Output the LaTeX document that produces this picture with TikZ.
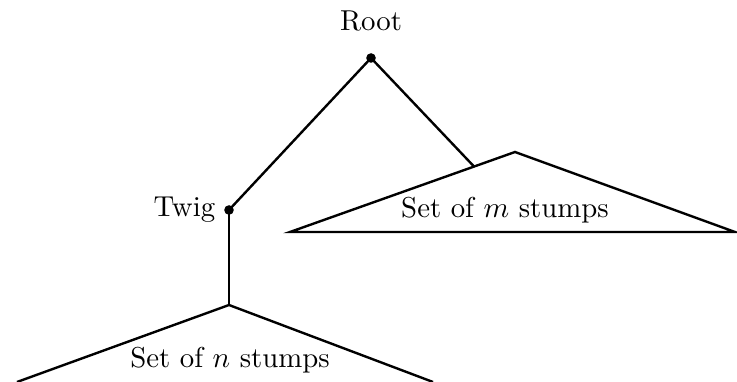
\documentclass[tikz,border=0pt]{standalone}
\usepackage{amsmath,amssymb}
\usepackage{tikz}
\usetikzlibrary{calc,positioning}

\begin{document}
\begin{tikzpicture}[
    x=0.375pt, y=-0.375pt,
    font=\fontsize{10.8}{13}\selectfont,
    vertex/.style={circle, fill, inner sep=0pt, minimum size=3.6pt},
    edge/.style={line width=0.9pt},
    lab/.style={inner sep=2pt}]
  \useasboundingbox (0,0) rectangle (737,382);
  \node[vertex] (root) at (371,58) {};
  \node[vertex] (twig) at (229,210) {};
  \node[lab, above=6pt of root] (rootlab) {Root};
  \node[lab, left=1pt of twig] (twiglab) {Twig};
  % set of m stumps
  \coordinate (mtop) at (515,152);
  \coordinate (mleft) at (290,232);
  \coordinate (mright) at (735,232);
  \coordinate (mhit) at ($(mleft)!0.818!(mtop)$);
  \draw[edge] (mleft) -- (mtop) -- (mright) -- cycle;
  \node (mset) at (505,210) {Set of $m$ stumps};
  % set of n stumps
  \coordinate (ntop) at (229,305);
  \coordinate (nleft) at (17,382);
  \coordinate (nright) at (433,382);
  \draw[edge] (nleft) -- (ntop) -- (nright);
  \node (nset) at (230,360) {Set of $n$ stumps};
  \draw[edge] (root.center) -- (twig.center);
  \draw[edge] (root.center) -- (mhit);
  \draw[edge] (twig.center) -- (ntop);
\end{tikzpicture}
\end{document}
